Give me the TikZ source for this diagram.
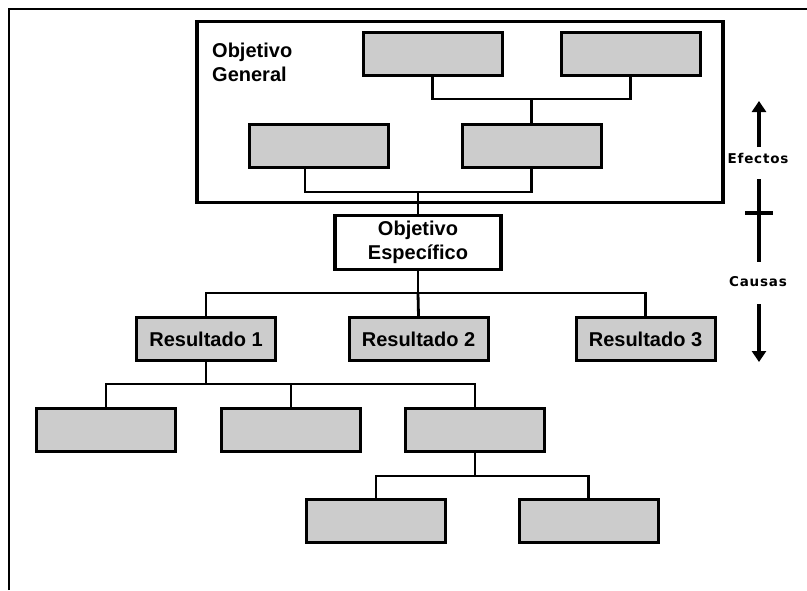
\documentclass[tikz,border=0pt]{standalone}
\usepackage{fontspec}
\setmainfont{Liberation Sans}
\newfontfamily\ladofont[LetterSpace=6]{DejaVu Sans}
\usetikzlibrary{arrows.meta}
\begin{document}
\begin{tikzpicture}[x=1pt,y=-1pt,line join=miter,>={Triangle[width=14pt,length=11pt]},
	font=\fontsize{20}{24}\selectfont\bfseries,
	grisbox/.style={draw,line width=3pt,fill=gray!40,minimum width=139pt,minimum height=43pt,inner sep=0pt},
	blancobox/.style={draw,line width=3.4pt,fill=white,align=center,inner sep=0pt},
	linea/.style={line width=2.8pt},
	lado/.style={font=\fontsize{13.5}{15}\selectfont\ladofont\bfseries}]
			\useasboundingbox (0,0) rectangle (807,590);
			% marco
			\draw[line width=2.6pt] (9,590)--(9,9)--(807,9);
			% objetivo general
			\node[draw,line width=3.8pt,minimum width=526pt,minimum height=181pt] (og) at (460,112) {};
			\node[anchor=north west,align=left,inner sep=0pt] (ogt) at (212,42.5) {Objetivo\\General};
			\node[grisbox] (ts1) at (432.5,54) {};
			\node[grisbox] (ts2) at (630.5,54) {};
			\node[grisbox] (ls1) at (319,145.5) {};
			\node[grisbox] (ls2) at (531.5,145.5) {};
			% objetivo especifico
			\node[blancobox,minimum width=166pt,minimum height=54pt] (oe) at (418,242.5) {Objetivo\\Espec\'ifico};
			% resultados
			\node[grisbox] (r1) at (206,339) {Resultado 1};
			\node[grisbox] (r2) at (418.5,339) {Resultado 2};
			\node[grisbox] (r3) at (645.5,339) {Resultado 3};
			\node[grisbox] (b1) at (106,430) {};
			\node[grisbox] (b2) at (291,430) {};
			\node[grisbox] (b3) at (475,430) {};
			\node[grisbox] (c1) at (376,520.5) {};
			\node[grisbox] (c2) at (588.5,520.5) {};
			% uniones
			\coordinate (J1) at (531.5,99);
			\coordinate (J2) at (305,192);
			\coordinate (J3) at (418,293);
			\coordinate (J4) at (206,384);
			\coordinate (J5) at (475,476);
			\draw[linea] (ts1.south)|-(J1)-|(ts2.south);
			\draw[linea] (J1)--(ls2.north);
			\draw[linea] (ls1.south -| J2)--(J2)-|(ls2.south);
			\draw[linea] (oe.north)--(oe.north |- J2);
			\draw[linea] (oe.south)--(J3);
			\draw[linea] (r1.north)|-(J3)-|(r3.north);
			\draw[linea] (J3)--(r2.north);
			\draw[linea] (r1.south)--(J4);
			\draw[linea] (b1.north)|-(J4)-|(b3.north);
			\draw[linea] (b2.north)--(b2.north |- J4);
			\draw[linea] (b3.south)--(J5);
			\draw[linea] (c1.north)|-(J5)-|(c2.north);
			% efectos y causas
			\node[lado] (ef) at (758,158) {Efectos};
			\node[lado] (ca) at (758,282) {Causas};
			\coordinate (E1) at (759,101);
			\coordinate (C1) at (759,362);
			\draw[line width=3.2pt,->] (759,147)--(E1);
			\draw[line width=3.2pt] (759,179)--(759,262);
			\draw[line width=3.2pt] (745,213)--(773,213);
			\draw[line width=3.2pt,->] (759,304)--(C1);
		\end{tikzpicture}
\end{document}
